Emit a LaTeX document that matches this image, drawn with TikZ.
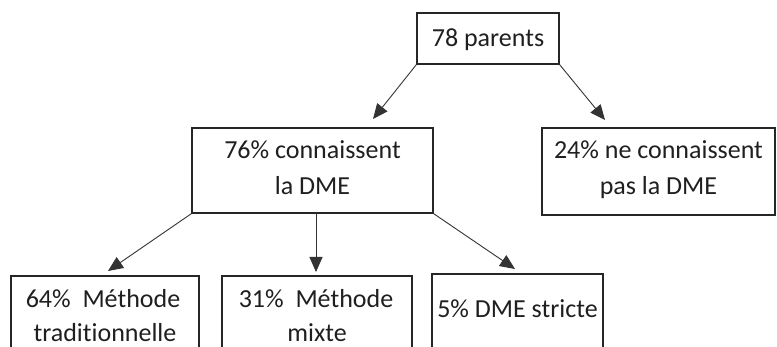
\documentclass[tikz,border=0pt]{standalone}
\usepackage{fontspec}
\setmainfont{Carlito}[Ligatures=NoCommon]
\usetikzlibrary{arrows.meta}
\begin{document}
\begin{tikzpicture}[x=1pt,y=-1pt,
  boxst/.style={draw=black!85, line width=1.4pt, inner sep=0pt, rectangle},
  txt/.style={anchor=base, inner sep=0pt, font=\fontsize{26}{36}\selectfont, text=black!88},
  arr/.style={draw=black!80, line width=0.9pt, -{Triangle[length=15pt,width=13pt]}}]
\path[use as bounding box] (0,0) rectangle (777,347);
\clip (0,0) rectangle (777,347);
% boxes
\node[boxst, minimum width=142pt, minimum height=51pt] (top) at (488,38.5) {};
\node[boxst, minimum width=241pt, minimum height=85pt] (know) at (312.5,170.5) {};
\node[boxst, minimum width=233pt, minimum height=87pt] (notknow) at (658.5,171.5) {};
\node[boxst, minimum width=188pt, minimum height=100pt] (trad) at (105,326) {};
\node[boxst, minimum width=190pt, minimum height=100pt] (mixte) at (317,326) {};
\node[boxst, minimum width=171pt, minimum height=100pt] (strict) at (517.5,324) {};
% texts
\node[txt] (ttop) at (488,47) {78 parents};
\node[txt] (tk1) at (312.5,159) {76\% connaissent};
\node[txt] (tk2) at (312.5,195) {la DME};
\node[txt] (tn1) at (658.5,159) {24\% ne connaissent};
\node[txt] (tn2) at (658.5,195) {pas la DME};
\node[txt] (tt1) at (103,308) {64\%\ \ Méthode};
\node[txt] (tt2) at (105,342) {traditionnelle};
\node[txt] (tm1) at (316,308) {31\%\ \ Méthode};
\node[txt] (tm2) at (317,342) {mixte};
\node[txt] (ts1) at (517.5,318) {5\% DME stricte};
% arrow tips
\coordinate (p1) at (373,119);
\coordinate (p2) at (605,120);
\coordinate (p3) at (108,271);
\coordinate (p4s) at (316,213);
\coordinate (p4) at (316,272);
\coordinate (p5) at (515,269);
\draw[arr] (top.south west) -- (p1);
\draw[arr] (top.south east) -- (p2);
\draw[arr] (know.south west) -- (p3);
\draw[arr] (p4s) -- (p4);
\draw[arr] (know.south east) -- (p5);
\end{tikzpicture}
\end{document}
